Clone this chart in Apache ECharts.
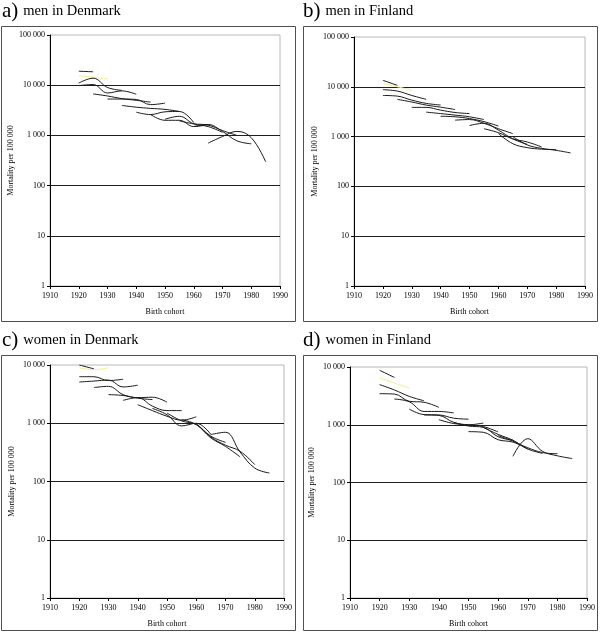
<!DOCTYPE html>
<html>
<head>
<meta charset="utf-8">
<script src="https://cdn.jsdelivr.net/npm/echarts@6/dist/echarts.min.js"></script>
<style>
  html, body { margin: 0; padding: 0; background: #fff; }
  #chart { width: 600px; height: 632px; }
</style>
</head>
<body>
<div id="chart"></div>
<script>
// birth cohort where each age-group line starts, values every 5 years after that
const lineStart = [1920, 1920, 1920, 1920, 1925, 1930, 1935, 1940, 1945, 1950, 1955, 1960, 1965]

const menDenmark = [
    [19000, 18500],
    [15500, 14500, 13300],
    [11000, 13800, 9000, 7900],
    [9800, 10300, 7000, 7700, 6600],
    [6700, 6100, 5400, 5000, 4600],
    [5300, 5300, 5200, 4100, 4400],
    [3950, 3650, 3450, 3300, 3000],
    [2900, 2600, 2950, 3000, 1800],
    [2600, 2000, 2000, 1500, 1650],
    [2100, 2400, 1700, 1500, 1150],
    [1950, 1700, 1600, 1250, 1000],
    [1500, 1650, 1200, 780, 680],
    [700, 950, 1200, 900, 300],
]

const menFinland = [
    [13500, 10700],
    [11700, 10000, 8600],
    [8750, 8200, 6700, 5600],
    [6700, 6500, 5400, 4650, 4300],
    [5600, 4950, 4300, 3900, 3500],
    [3860, 3860, 3400, 3050, 2900],
    [3100, 2900, 2700, 2500, 2200],
    [2560, 2500, 2300, 2000, 1630],
    [2140, 2200, 1850, 1440, 1150],
    [1670, 1850, 1350, 900, 700],
    [1440, 1200, 900, 780, 620],
    [1150, 720, 600, 560, 550],
    [1000, 680, 580, 530, 470],
]

const womenDenmark = [
    [10000, 8600],
    [9000, 8300, 9000],
    [6300, 6300, 5400, 5700],
    [5100, 5300, 5500, 4200, 4500],
    [4100, 4300, 3100, 2700, 2550],
    [3100, 3000, 2750, 2800, 2300],
    [2470, 2750, 1970, 1650, 1650],
    [2080, 1650, 1320, 1130, 1290],
    [1800, 1400, 900, 1000, 640],
    [1500, 1100, 950, 600, 470],
    [1150, 950, 560, 400, 265],
    [1000, 580, 420, 330, 195],
    [640, 700, 320, 170, 140],
]

const womenFinland = [
    [8750, 6600],
    [6500, 5300, 4300],
    [4950, 4000, 3100, 2600],
    [3450, 3400, 2550, 2450, 2000],
    [2790, 2500, 1700, 1700, 1600],
    [1870, 1500, 1480, 1300, 1250],
    [1475, 1450, 1100, 1000, 1070],
    [1225, 1050, 1000, 930, 750],
    [1100, 950, 900, 620, 540],
    [760, 740, 550, 500, 380],
    [900, 680, 540, 380, 320],
    [650, 520, 400, 330, 315],
    [284, 574, 346, 290, 260],
]

const panelLetters = ['a)', 'b)', 'c)', 'd)']
const panelTitles = ['men in Denmark', 'men in Finland', 'women in Denmark', 'women in Finland']
const panelMax = [100000, 100000, 10000, 10000]
const panels = [menDenmark, menFinland, womenDenmark, womenFinland]

const font = 'Liberation Serif'

// plot areas and outer boxes, in pixels
const grids = [
    { left: 50, top: 35, width: 230, height: 251 },
    { left: 354, top: 37, width: 231, height: 249 },
    { left: 50, top: 365, width: 234, height: 233 },
    { left: 350, top: 367, width: 237, height: 231 },
]
const boxes = [
    { x: 1.5, y: 26.5, width: 294, height: 295 },
    { x: 303.5, y: 26.5, width: 294, height: 295 },
    { x: 1.5, y: 355.5, width: 294, height: 275 },
    { x: 303.5, y: 355.5, width: 294, height: 275 },
]
const titlePos = [[2, 1], [303, 1], [2, 330], [303, 330]]

const fmt = v => String(v).replace(/\B(?=(\d{3})+(?!\d))/g, ' ')

let chartDom = document.getElementById('chart')
let myChart = echarts.init(chartDom, null, { renderer: 'canvas' })

const series = []
panels.forEach((lines, p) => {
    lines.forEach((values, i) => {
        series.push({
            type: 'line',
            xAxisIndex: p,
            yAxisIndex: p,
            data: values.map((v, j) => [lineStart[i] + 5 * j, v]),
            smooth: 0.4,
            symbol: 'none',
            silent: true,
            lineStyle: { width: 1, color: i === 1 ? '#f3ee8c' : '#1a1a1a' },
        })
    })
})

let option = {
    animation: false,
    backgroundColor: '#fff',
    title: panelTitles.map((t, p) => ({
        text: `{l|${panelLetters[p]}} {t|${t}}`,
        left: titlePos[p][0],
        top: titlePos[p][1],
        padding: 0,
        textStyle: {
            fontWeight: 'normal',
            rich: {
                l: { fontFamily: font, fontSize: 21, fontWeight: 'normal', color: '#000' },
                t: { fontFamily: font, fontSize: 14.5, fontWeight: 'normal', color: '#000' },
            },
        },
    })),
    grid: grids.map(g => ({ ...g, show: true, borderColor: '#b8b8b8', borderWidth: 1 })),
    xAxis: grids.map((g, p) => ({
        type: 'value',
        gridIndex: p,
        min: 1910,
        max: 1990,
        interval: 10,
        name: 'Birth cohort',
        nameLocation: 'middle',
        nameGap: 22,
        nameTextStyle: { fontFamily: font, fontSize: 8, color: '#000' },
        axisLine: { lineStyle: { color: '#000', width: 1 } },
        axisTick: { length: 3, lineStyle: { color: '#000' } },
        axisLabel: { fontFamily: font, fontSize: 8, color: '#000', margin: 6, formatter: v => String(v) },
        splitLine: { show: false },
    })),
    yAxis: grids.map((g, p) => ({
        type: 'log',
        logBase: 10,
        gridIndex: p,
        min: 1,
        max: panelMax[p],
        interval: 1,
        name: 'Mortality per 100 000',
        nameLocation: 'middle',
        nameGap: 34,
        nameTextStyle: { fontFamily: font, fontSize: 8, color: '#000' },
        axisLine: { lineStyle: { color: '#000', width: 1 } },
        axisTick: { length: 3, lineStyle: { color: '#000' } },
        axisLabel: { fontFamily: font, fontSize: 8, color: '#000', margin: 5, formatter: fmt },
        splitLine: { show: true, showMaxLine: false, lineStyle: { color: '#1e1e1e', width: 1 } },
    })),
    graphic: boxes.map(b => ({
        type: 'rect',
        shape: b,
        style: { fill: 'none', stroke: '#505050', lineWidth: 1 },
        silent: true,
    })),
    series,
}
myChart.setOption(option)
</script>
</body>
</html>
